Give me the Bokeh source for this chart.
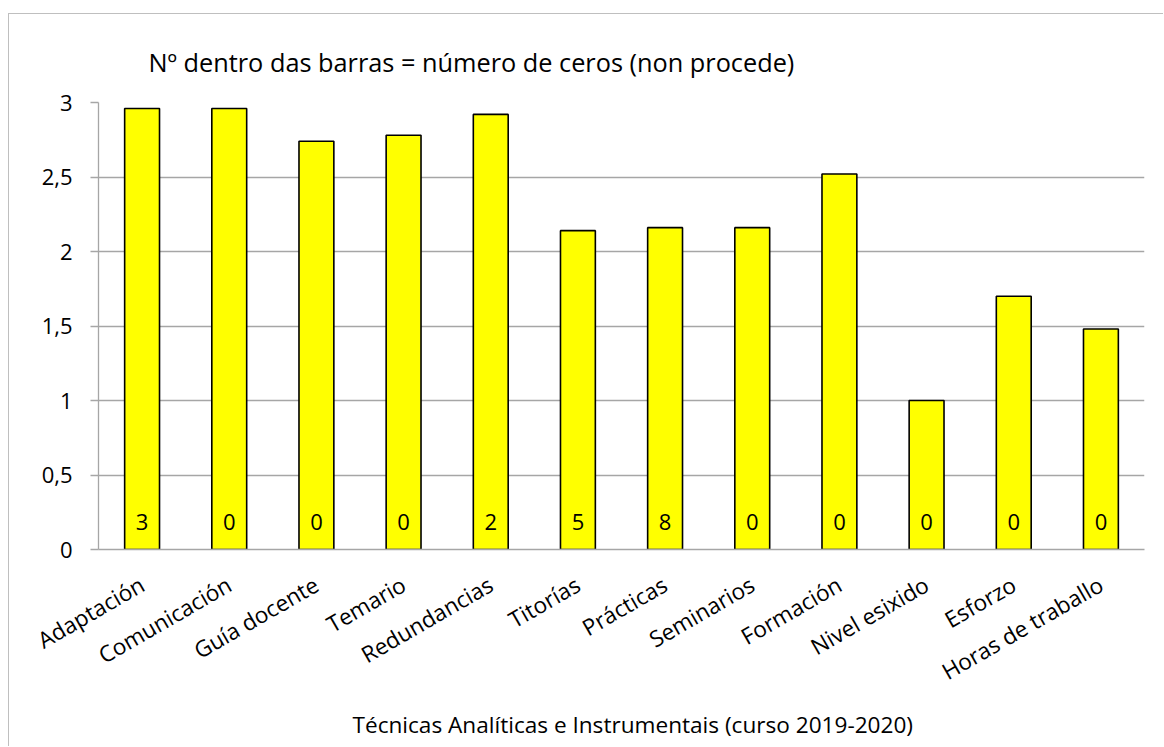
import math
from bokeh.plotting import figure
from bokeh.models import FactorRange, Range1d, FixedTicker, ColumnDataSource, Title
from bokeh.embed import file_html
from bokeh.resources import INLINE
from bokeh.core.properties import value

categories = ["Adaptación", "Comunicación", "Guía docente", "Temario", "Redundancias",
              "Titorías", "Prácticas", "Seminarios", "Formación", "Nivel esixido",
              "Esforzo", "Horas de traballo"]
scores = [2.96, 2.96, 2.74, 2.78, 2.92, 2.14, 2.16, 2.16, 2.52, 1.00, 1.70, 1.48]
zero_counts = [3, 0, 0, 0, 2, 5, 8, 0, 0, 0, 0, 0]
y_ticks = [0, 0.5, 1, 1.5, 2, 2.5, 3]
y_tick_labels = ["0", "0,5", "1", "1,5", "2", "2,5", "3"]
top_note = "Nº dentro das barras = número de ceros (non procede)"
x_title = "Técnicas Analíticas e Instrumentais (curso 2019-2020)"

FONT = "Open Sans"
FS = "22px"
GRID = "#a6a6a6"

src = ColumnDataSource(dict(cat=categories, score=scores,
                            zlabel=[str(z) for z in zero_counts],
                            base=[0] * len(categories)))

p = figure(width=1155, height=733, x_range=FactorRange(factors=categories),
           y_range=Range1d(0, 3), output_backend="svg", toolbar_location=None,
           min_border_left=89, min_border_right=20, min_border_top=88,
           min_border_bottom=198)
p.margin = (13, 0, 0, 8)
p.styles = {"border-left": "1px solid #bfbfbf", "border-top": "1px solid #bfbfbf"}
p.outline_line_color = None
p.background_fill_color = "white"
p.border_fill_color = "white"

p.title.text = top_note
p.title.align = "left"
p.title.offset = 50
p.title.standoff = 48
p.title.text_font = FONT
p.title.text_font_size = "25.3px"
p.title.text_font_style = "normal"
p.title.text_color = "black"

p.vbar(x="cat", top="score", width=0.4, source=src, fill_color="#FFFF00",
       line_color="black", line_width=1.6)
p.text(x="cat", y="base", text="zlabel", source=src, text_align="center",
       text_baseline="middle", y_offset=-28, text_font=value(FONT),
       text_font_size=FS, text_color="black")

p.xgrid.grid_line_color = None
p.ygrid.ticker = FixedTicker(ticks=y_ticks)
p.ygrid.grid_line_color = GRID
p.ygrid.grid_line_width = 1.3

ya = p.yaxis[0]
ya.ticker = FixedTicker(ticks=y_ticks)
ya.major_label_overrides = {t: l for t, l in zip(y_ticks, y_tick_labels)}
ya.axis_line_color = GRID
ya.axis_line_width = 1.3
ya.major_tick_line_color = GRID
ya.major_tick_line_width = 1.3
ya.major_tick_out = 8
ya.major_tick_in = 0
ya.minor_tick_line_color = None
ya.major_label_standoff = 18
ya.major_label_text_font = FONT
ya.major_label_text_font_size = FS
ya.major_label_text_color = "black"

xa = p.xaxis[0]
xa.axis_line_color = GRID
xa.axis_line_width = 1.3
xa.major_tick_line_color = None
xa.minor_tick_line_color = None
xa.major_label_orientation = math.pi / 6
xa.major_label_standoff = 27
xa.major_label_text_font = FONT
xa.major_label_text_font_size = "22.5px"
xa.major_label_text_color = "black"

p.add_layout(Title(text=x_title, align="left", offset=254, standoff=6,
                   text_font=FONT, text_font_size="22.6px",
                   text_font_style="normal", text_color="black"), "below")

open("out.html", "w").write(file_html(p, INLINE))
